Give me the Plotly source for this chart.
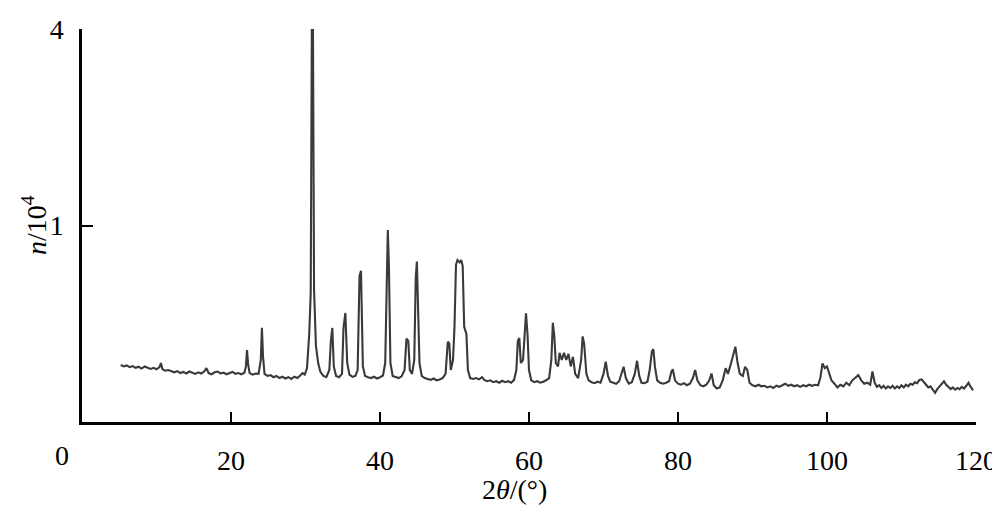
import numpy as np
import plotly.graph_objects as go

# 2θ (degrees) and intensity n (in units of 10^4 counts)
two_theta = [
    5.2, 5.6, 6.0, 6.4, 6.8, 7.2, 7.6, 8.0, 8.4, 8.8, 9.2, 9.6, 10.0, 10.4, 10.6, 10.8,
    11.2, 11.6, 12.0, 12.4, 12.8, 13.2, 13.6, 14.0, 14.4, 14.8, 15.2, 15.6, 16.0, 16.4,
    16.7, 17.0, 17.4, 17.8, 18.2, 18.6, 19.0, 19.4, 19.8, 20.2, 20.6, 21.0, 21.4, 21.8,
    22.0, 22.15, 22.3, 22.5, 22.9, 23.3, 23.7, 24.0, 24.15, 24.3, 24.5, 24.9, 25.3, 25.7,
    26.1, 26.5, 26.9, 27.3, 27.7, 28.1, 28.5, 28.9, 29.3, 29.6, 29.9, 30.2, 30.5, 30.7,
    30.85, 31.0, 31.15, 31.4, 31.7, 32.0, 32.4, 32.8, 33.2, 33.4, 33.6, 33.8, 34.1, 34.5,
    34.9, 35.1, 35.35, 35.6, 35.9, 36.3, 36.7, 37.0, 37.25, 37.45, 37.7, 38.0, 38.4, 38.8,
    39.2, 39.6, 40.0, 40.4, 40.7, 40.9, 41.05, 41.2, 41.4, 41.7, 42.1, 42.5, 42.9, 43.3,
    43.55, 43.8, 44.0, 44.3, 44.6, 44.8, 44.95, 45.1, 45.3, 45.6, 46.0, 46.4, 46.8, 47.2,
    47.6, 48.0, 48.4, 48.8, 49.1, 49.3, 49.5, 49.8, 50.0, 50.2, 50.4, 50.7, 50.9, 51.1,
    51.3, 51.6, 51.8, 52.1, 52.5, 52.9, 53.3, 53.7, 54.0, 54.4, 54.8, 55.2, 55.6, 56.0,
    56.4, 56.8, 57.2, 57.6, 58.0, 58.3, 58.5, 58.7, 58.9, 59.2, 59.45, 59.6, 59.8, 60.0,
    60.3, 60.7, 61.1, 61.5, 61.9, 62.3, 62.7, 63.0, 63.2, 63.4, 63.6, 63.9, 64.1, 64.4,
    64.7, 65.0, 65.3, 65.6, 65.9, 66.2, 66.6, 67.0, 67.2, 67.4, 67.7, 68.0, 68.4, 68.8,
    69.2, 69.6, 70.0, 70.3, 70.6, 70.9, 71.3, 71.7, 72.1, 72.5, 72.7, 73.0, 73.4, 73.8,
    74.2, 74.5, 74.8, 75.1, 75.5, 75.9, 76.2, 76.5, 76.7, 76.9, 77.2, 77.6, 78.0, 78.4,
    78.8, 79.1, 79.3, 79.6, 80.0, 80.4, 80.8, 81.2, 81.6, 82.0, 82.3, 82.6, 83.0, 83.4,
    83.8, 84.2, 84.5, 84.8, 85.2, 85.6, 86.0, 86.4, 86.7, 87.0, 87.4, 87.7, 88.0, 88.3,
    88.7, 89.0, 89.3, 89.6, 90.0, 90.4, 90.8, 91.2, 91.6, 92.0, 92.4, 92.8, 93.2, 93.6,
    94.0, 94.4, 94.8, 95.2, 95.6, 96.0, 96.4, 96.8, 97.2, 97.6, 98.0, 98.4, 98.8, 99.1,
    99.4, 99.7, 100.0, 100.3, 100.6, 101.0, 101.4, 101.8, 102.2, 102.6, 103.0, 103.4,
    103.8, 104.2, 104.6, 105.0, 105.4, 105.8, 106.1,
    106.4, 106.7, 107.0, 107.3, 107.6, 107.9, 108.2, 108.5, 108.8, 109.1,
    109.4, 109.7, 110.0, 110.3, 110.6, 110.9, 111.2, 111.5, 111.8, 112.1,
    112.4, 112.7, 113.0, 113.3, 113.6, 113.9, 114.2, 114.5, 114.8, 115.1,
    115.4, 115.7, 116.0, 116.3, 116.6, 116.9, 117.2, 117.5, 117.8, 118.1,
    118.4, 118.7, 119.0, 119.2, 119.4, 119.6,
]
intensity = [
    0.084, 0.080, 0.083, 0.078, 0.081, 0.076, 0.079, 0.074, 0.080, 0.077, 0.073, 0.076, 0.072, 0.078, 0.090, 0.072,
    0.068, 0.070, 0.066, 0.064, 0.067, 0.062, 0.065, 0.061, 0.066, 0.063, 0.060, 0.064, 0.061, 0.066,
    0.075, 0.062, 0.059, 0.064, 0.066, 0.061, 0.063, 0.059, 0.062, 0.065, 0.060, 0.062, 0.059, 0.063,
    0.080, 0.134, 0.085, 0.062, 0.058, 0.061, 0.060, 0.100, 0.230, 0.110, 0.060, 0.055, 0.057, 0.052,
    0.055, 0.050, 0.053, 0.049, 0.052, 0.048, 0.053, 0.050, 0.056, 0.062, 0.058, 0.075, 0.200, 0.430,
    4.0, 4.0, 0.450, 0.150, 0.090, 0.065, 0.055, 0.052, 0.070, 0.167, 0.229, 0.080, 0.055, 0.052,
    0.060, 0.229, 0.308, 0.090, 0.058, 0.053, 0.055, 0.070, 0.550, 0.593, 0.080, 0.055, 0.052, 0.050,
    0.053, 0.049, 0.052, 0.056, 0.090, 0.620, 0.955, 0.620, 0.090, 0.055, 0.053, 0.050, 0.054, 0.070,
    0.180, 0.170, 0.070, 0.060, 0.100, 0.540, 0.666, 0.350, 0.090, 0.055, 0.050, 0.048, 0.046, 0.049,
    0.045, 0.047, 0.050, 0.060, 0.167, 0.160, 0.070, 0.100, 0.235, 0.640, 0.680, 0.660, 0.680, 0.630,
    0.235, 0.200, 0.070, 0.050, 0.048, 0.050, 0.047, 0.052, 0.046, 0.043, 0.045, 0.041, 0.043, 0.040,
    0.044, 0.041, 0.043, 0.040, 0.046, 0.070, 0.170, 0.183, 0.090, 0.100, 0.250, 0.306, 0.200, 0.070,
    0.045, 0.041, 0.043, 0.040, 0.042, 0.045, 0.050, 0.100, 0.255, 0.190, 0.090, 0.080, 0.124, 0.100,
    0.124, 0.100, 0.120, 0.080, 0.110, 0.060, 0.050, 0.100, 0.190, 0.160, 0.060, 0.045, 0.041, 0.039,
    0.042, 0.040, 0.060, 0.094, 0.055, 0.042, 0.040, 0.038, 0.043, 0.070, 0.079, 0.050, 0.038, 0.041,
    0.060, 0.097, 0.055, 0.040, 0.039, 0.042, 0.070, 0.130, 0.137, 0.080, 0.045, 0.040, 0.038, 0.040,
    0.043, 0.065, 0.072, 0.045, 0.038, 0.036, 0.039, 0.035, 0.038, 0.050, 0.070, 0.045, 0.035, 0.033,
    0.036, 0.045, 0.061, 0.035, 0.029, 0.031, 0.045, 0.075, 0.060, 0.080, 0.120, 0.147, 0.090, 0.060,
    0.055, 0.079, 0.070, 0.040, 0.035, 0.033, 0.036, 0.033, 0.034, 0.031, 0.033, 0.030, 0.034, 0.032,
    0.035, 0.038, 0.034, 0.036, 0.033, 0.035, 0.032, 0.035, 0.033, 0.036, 0.034, 0.036, 0.035, 0.050,
    0.089, 0.075, 0.080, 0.060, 0.045, 0.038, 0.031, 0.036, 0.033, 0.040, 0.035, 0.045,
    0.050, 0.057, 0.045, 0.038, 0.040, 0.036, 0.066,
    0.040, 0.032, 0.035, 0.030, 0.034, 0.029, 0.033, 0.030, 0.034, 0.029,
    0.033, 0.030, 0.035, 0.031, 0.036, 0.033, 0.038, 0.036, 0.041, 0.039,
    0.046, 0.047, 0.040, 0.036, 0.031, 0.033, 0.027, 0.022, 0.028, 0.033,
    0.038, 0.043, 0.036, 0.031, 0.028, 0.031, 0.027, 0.030, 0.028, 0.032,
    0.029, 0.034, 0.040, 0.034, 0.030, 0.026,
]

x_tick_vals = [20, 40, 60, 80, 100, 120]
y_tick_vals = [1, 4]          # intensity values shown on the square-root axis

FONT = "Liberation Serif, Times New Roman, serif"

fig = go.Figure()
fig.add_trace(go.Scatter(
    x=two_theta,
    y=np.sqrt(np.array(intensity)),
    mode="lines",
    line=dict(color="#3a3a3a", width=2.1),
    showlegend=False,
    hoverinfo="skip",
))

# the page body adds an 8 px offset; size the figure to fit the 1000x513 window
fig.update_layout(
    width=992, height=505,
    margin=dict(l=74, r=24, t=21, b=91),
    paper_bgcolor="white", plot_bgcolor="white",
    font=dict(family=FONT, size=28, color="black"),
    xaxis=dict(
        range=[0, 120],
        tickvals=x_tick_vals,
        ticktext=[str(v) for v in x_tick_vals],
        ticks="inside", ticklen=10, tickwidth=2, tickcolor="black",
        showline=True, linecolor="black", linewidth=2.5,
        showgrid=False, zeroline=False,
        ticklabelstandoff=12,
        automargin=False,
    ),
    yaxis=dict(
        range=[0, 2.0],
        tickvals=[float(np.sqrt(v)) for v in y_tick_vals],
        ticktext=[str(v) for v in y_tick_vals],
        ticks="inside", ticklen=11, tickwidth=2, tickcolor="black",
        showline=True, linecolor="black", linewidth=2.5,
        showgrid=False, zeroline=False,
        ticklabelstandoff=10,
        automargin=False,
    ),
    annotations=[
        dict(text="0", x=-0.022, y=-0.084, xref="paper", yref="paper",
             xanchor="center", yanchor="middle", showarrow=False,
             font=dict(family=FONT, size=28, color="black")),
        dict(text="2<i>θ</i>/(°)", x=0.484, y=-0.172, xref="paper", yref="paper",
             xanchor="center", yanchor="middle", showarrow=False,
             font=dict(family=FONT, size=28, color="black")),
        dict(text="<i>n</i>/10<sup>4</sup>", x=-0.053, y=0.5, xref="paper", yref="paper",
             xanchor="center", yanchor="middle", showarrow=False, textangle=-90,
             font=dict(family=FONT, size=28, color="black")),
    ],
)

fig.write_html("out.html")
